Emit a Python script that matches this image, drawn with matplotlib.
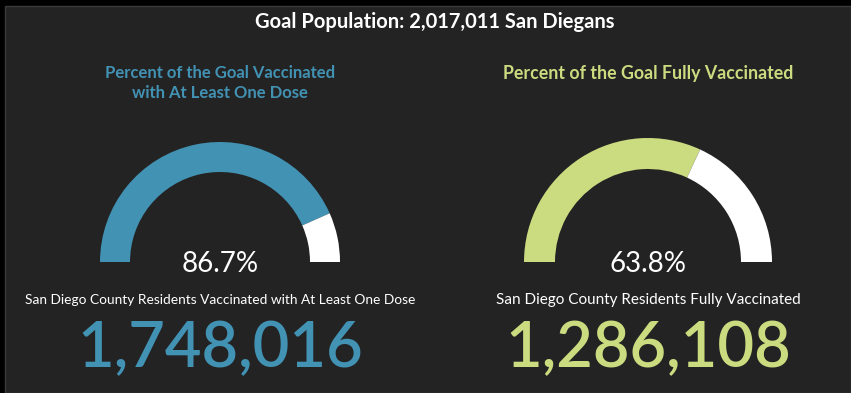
import matplotlib.pyplot as plt
from matplotlib.patches import Rectangle

goal_population = "2,017,011"
titles = ["Percent of the Goal Vaccinated\nwith At Least One Dose",
          "Percent of the Goal Fully Vaccinated"]
percents = [86.7, 63.8]
labels = ["San Diego County Residents Vaccinated with At Least One Dose",
          "San Diego County Residents Fully Vaccinated"]
counts = [1748016, 1286108]

colors = ["#4292b4", "#cbdb7f"]
bg = "#232323"

W, H = 851, 393
plt.rcParams['font.family'] = ['Lato', 'DejaVu Sans']

fig = plt.figure(figsize=(W / 100, H / 100), dpi=100, facecolor="black")
ax = fig.add_axes([0, 0, 1, 1])
ax.set_facecolor("black")

# dark panel with a faint edge
ax.add_patch(Rectangle((5, 0), W - 5, H - 6, facecolor=bg, edgecolor="#3a3a3a",
                       linewidth=1, zorder=0))

# gauge layout (pixel centres measured from the top)
centers_x = [220, 648]
center_y = 262
radii = [120, 124]
widths = [30, 31]
title_sizes = [12, 12.8]
label_sizes = [9.9, 11]

for i in range(2):
    p = percents[i]
    ax.pie([p / 200, (100 - p) / 200], normalize=False, startangle=180,
           counterclock=False, radius=radii[i],
           center=(centers_x[i], H - center_y), frame=True,
           colors=[colors[i], "white"],
           wedgeprops=dict(width=widths[i], linewidth=0))
    ax.text(centers_x[i], H - 264, f"{p:.1f}%", color="white", fontsize=20,
            fontweight="normal", ha="center", va="center")
    ax.text(centers_x[i], H - 83 if i == 0 else H - 73, titles[i],
            color=colors[i], fontsize=title_sizes[i], fontweight="bold",
            ha="center", va="center", linespacing=1.25)
    ax.text(centers_x[i], H - 300, labels[i], color="white",
            fontsize=label_sizes[i], ha="center", va="center")
    ax.text(centers_x[i], H - 349, f"{counts[i]:,}", color=colors[i],
            fontsize=45.5, fontweight="semibold", ha="center", va="center")

ax.text(435, H - 22, f"Goal Population: {goal_population} San Diegans",
        color="white", fontsize=14.5, fontweight="bold", ha="center", va="center")

ax.set_xlim(0, W)
ax.set_ylim(0, H)
ax.set_aspect("auto")
ax.axis("off")

fig.savefig("out.png", dpi=100, facecolor="black")
